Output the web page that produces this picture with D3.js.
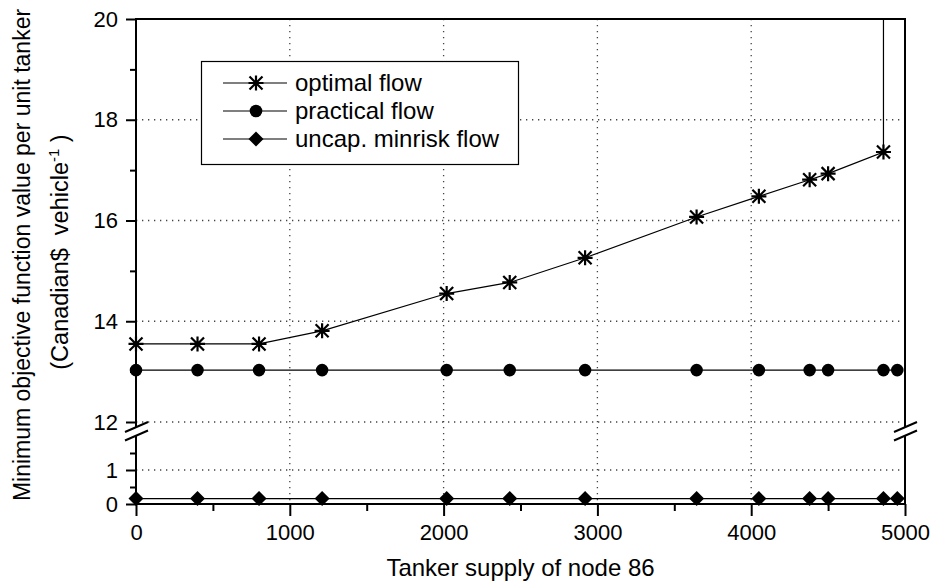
<!DOCTYPE html>
<html>
<head>
<meta charset="utf-8">
<script src="https://cdn.jsdelivr.net/npm/d3@7"></script>
<style>
  html, body { margin: 0; padding: 0; background: #fff; }
  svg { display: block; font-family: "Liberation Sans", Arial, sans-serif; }
</style>
</head>
<body>
<script>
// ---------------- data ----------------
const supply = [0, 400, 800, 1210, 2020, 2430, 2920, 3645, 4050, 4380, 4500, 4860, 4950];
// optimal flow: last entry runs off the top of the axis (unbounded), drawn without marker
const optimalSupply = [0, 400, 800, 1210, 2020, 2430, 2920, 3645, 4050, 4380, 4500, 4860, 4860];
const optimalFlow = [13.55, 13.55, 13.55, 13.81, 14.55, 14.77, 15.26, 16.07, 16.48, 16.81, 16.93, 17.36, 20];
const practicalFlow = [13.03, 13.03, 13.03, 13.03, 13.03, 13.03, 13.03, 13.03, 13.03, 13.03, 13.03, 13.03, 13.03];
const minriskFlow = [0.16, 0.16, 0.16, 0.16, 0.16, 0.16, 0.16, 0.16, 0.16, 0.16, 0.16, 0.16, 0.16];

const xTicks = [0, 1000, 2000, 3000, 4000, 5000];
const xMinorTicks = [500, 1500, 2500, 3500, 4500];
const xGrid = [1000, 2000, 3000, 4000];
const yUpperTicks = [12, 14, 16, 18, 20];
const yUpperMinor = [13, 15, 17, 19];
const yUpperGrid = [12, 14, 16, 18];
const yLowerTicks = [0, 1];
const yLowerMinor = [0.5, 1.5];
const yLowerGrid = [1];

const legendLabels = ["optimal flow", "practical flow", "uncap. minrisk flow"];

// ---------------- layout ----------------
const W = 944, H = 586;
const xL = 136, xR = 905;
const yTop = 19, yBottom = 504;

const x = d3.scaleLinear().domain([0, 5000]).range([xL, xR]);
const yUp = d3.scaleLinear().domain([12, 20]).range([422, yTop]);
const yLo = d3.scaleLinear().domain([0, 2]).range([yBottom, 436]);
const y = v => (v >= 6 ? yUp(v) : yLo(v));

const svg = d3.select("body").append("svg").attr("width", W).attr("height", H);
svg.append("rect").attr("width", W).attr("height", H).attr("fill", "#fff");

// ---------------- grid ----------------
const grid = svg.append("g").attr("stroke", "#444").attr("stroke-width", 1.3)
  .attr("stroke-dasharray", "1.3,4.7").attr("fill", "none");
grid.selectAll("line.gx").data(xGrid).join("line")
  .attr("x1", d => x(d)).attr("x2", d => x(d)).attr("y1", yTop).attr("y2", yBottom);
grid.selectAll("line.gyu").data(yUpperGrid).join("line")
  .attr("x1", xL).attr("x2", xR).attr("y1", d => yUp(d)).attr("y2", d => yUp(d));
grid.selectAll("line.gyl").data(yLowerGrid).join("line")
  .attr("class", "gyl")
  .attr("x1", xL).attr("x2", xR).attr("y1", d => yLo(d)).attr("y2", d => yLo(d));

// ---------------- axes ----------------
function styleAxis(g) {
  g.select(".domain").remove();
  g.selectAll(".tick line").attr("stroke", "#000").attr("stroke-width", 2);
  g.selectAll(".tick text").attr("fill", "#000").attr("font-size", 22)
    .attr("font-family", "'Liberation Sans', Arial, sans-serif");
}
// x axis
const gx = svg.append("g").attr("transform", `translate(0,${yBottom})`)
  .call(d3.axisBottom(x).tickValues(xTicks).tickSize(12).tickPadding(8).tickFormat(d3.format("d")));
styleAxis(gx);
const gxm = svg.append("g").attr("transform", `translate(0,${yBottom})`)
  .call(d3.axisBottom(x).tickValues(xMinorTicks).tickSize(7).tickFormat(""));
styleAxis(gxm);

// y axes
const gyu = svg.append("g").attr("transform", `translate(${xL},0)`)
  .call(d3.axisLeft(yUp).tickValues(yUpperTicks).tickSize(10).tickPadding(8).tickFormat(d3.format("d")));
styleAxis(gyu);
const gyum = svg.append("g").attr("transform", `translate(${xL},0)`)
  .call(d3.axisLeft(yUp).tickValues(yUpperMinor).tickSize(6).tickFormat(""));
styleAxis(gyum);
const gyl = svg.append("g").attr("transform", `translate(${xL},0)`)
  .call(d3.axisLeft(yLo).tickValues(yLowerTicks).tickSize(10).tickPadding(8).tickFormat(d3.format("d")));
styleAxis(gyl);
const gylm = svg.append("g").attr("transform", `translate(${xL},0)`)
  .call(d3.axisLeft(yLo).tickValues(yLowerMinor).tickSize(6).tickFormat(""));
styleAxis(gylm);

// frame
const frame = svg.append("g").attr("stroke", "#000").attr("stroke-width", 2).attr("fill", "none");
frame.append("line").attr("x1", xL).attr("x2", xL).attr("y1", yTop - 1).attr("y2", yBottom + 1);
frame.append("line").attr("x1", xR).attr("x2", xR).attr("y1", yTop - 1).attr("y2", yBottom + 1);
frame.append("line").attr("x1", xL - 1).attr("x2", xR + 1).attr("y1", yTop).attr("y2", yTop);
frame.append("line").attr("x1", xL - 1).attr("x2", xR + 1).attr("y1", yBottom).attr("y2", yBottom);

// axis breaks
[xL, xR].forEach(ax => {
  const b1 = 427, b2 = 435.5;
  svg.append("polygon")
    .attr("points", `${ax - 11},${b1 + 5} ${ax + 12},${b1 - 5} ${ax + 12},${b2 - 5} ${ax - 11},${b2 + 5}`)
    .attr("fill", "#fff");
  [b1, b2].forEach(b => {
    svg.append("line").attr("x1", ax - 11).attr("y1", b + 5).attr("x2", ax + 12).attr("y2", b - 5)
      .attr("stroke", "#000").attr("stroke-width", 2);
  });
});

// ---------------- series ----------------
const clip = svg.append("clipPath").attr("id", "plotclip").append("rect")
  .attr("x", xL - 10).attr("y", yTop).attr("width", xR - xL + 20).attr("height", yBottom - yTop + 10);
const plot = svg.append("g").attr("clip-path", "url(#plotclip)");

const line = d3.line().x(d => x(d.s)).y(d => y(d.v));
const optData = optimalSupply.map((s, i) => ({ s, v: optimalFlow[i] }));
const pracData = supply.map((s, i) => ({ s, v: practicalFlow[i] }));
const minData = supply.map((s, i) => ({ s, v: minriskFlow[i] }));

[optData, pracData, minData].forEach(d => {
  plot.append("path").datum(d).attr("d", line)
    .attr("fill", "none").attr("stroke", "#000").attr("stroke-width", 1.2);
});

const starPath = "M0,-7.5L0,7.5M-6.5,-6.5L6.5,6.5M-6.5,6.5L6.5,-6.5M-7.5,0L7.5,0";
const diamondPath = "M0,-7.5L7.5,0L0,7.5L-7.5,0Z";

function star(g) { g.append("path").attr("d", starPath).attr("stroke", "#000").attr("stroke-width", 2.2).attr("fill", "none"); }
function circle(g) { g.append("circle").attr("r", 6.3).attr("fill", "#000"); }
function diamond(g) { g.append("path").attr("d", diamondPath).attr("fill", "#000"); }

plot.selectAll("g.opt").data(optData.filter(d => d.v < 20)).join("g")
  .attr("transform", d => `translate(${x(d.s)},${y(d.v)})`).each(function () { star(d3.select(this)); });
plot.selectAll("g.prac").data(pracData).join("g")
  .attr("class", "prac")
  .attr("transform", d => `translate(${x(d.s)},${y(d.v)})`).each(function () { circle(d3.select(this)); });
plot.selectAll("g.minr").data(minData).join("g")
  .attr("class", "minr")
  .attr("transform", d => `translate(${x(d.s)},${y(d.v)})`).each(function () { diamond(d3.select(this)); });

// ---------------- legend ----------------
const lg = svg.append("g");
lg.append("rect").attr("x", 201.5).attr("y", 61.5).attr("width", 317).attr("height", 103)
  .attr("fill", "#fff").attr("stroke", "#000").attr("stroke-width", 1.2);
const markers = [star, circle, diamond];
legendLabels.forEach((lab, i) => {
  const ly = 83 + i * 28;
  lg.append("line").attr("x1", 223).attr("x2", 287).attr("y1", ly).attr("y2", ly)
    .attr("stroke", "#000").attr("stroke-width", 1.2);
  const mg = lg.append("g").attr("transform", `translate(256,${ly})`);
  markers[i](mg);
  lg.append("text").attr("x", 295).attr("y", ly).attr("dy", "0.35em")
    .attr("font-size", 24).attr("fill", "#000").text(lab);
});

// ---------------- titles ----------------
svg.append("text").attr("x", (xL + xR) / 2).attr("y", 576).attr("text-anchor", "middle")
  .attr("font-size", 24).attr("fill", "#000").text("Tanker supply of node 86");

svg.append("text").attr("transform", "translate(30,255) rotate(-90)").attr("text-anchor", "middle")
  .attr("font-size", 23).attr("fill", "#000").text("Minimum objective function value per unit tanker");
const t2 = svg.append("text").attr("transform", "translate(68,252) rotate(-90)").attr("text-anchor", "middle")
  .attr("font-size", 23.5).attr("fill", "#000").style("white-space", "pre");
t2.append("tspan").text("(Canadian$  vehicle");
t2.append("tspan").attr("font-size", 15).attr("dy", "-0.6em").text("-1");
t2.append("tspan").attr("font-size", 23.5).attr("dy", "0.4em").text(" )");
</script>
</body>
</html>
